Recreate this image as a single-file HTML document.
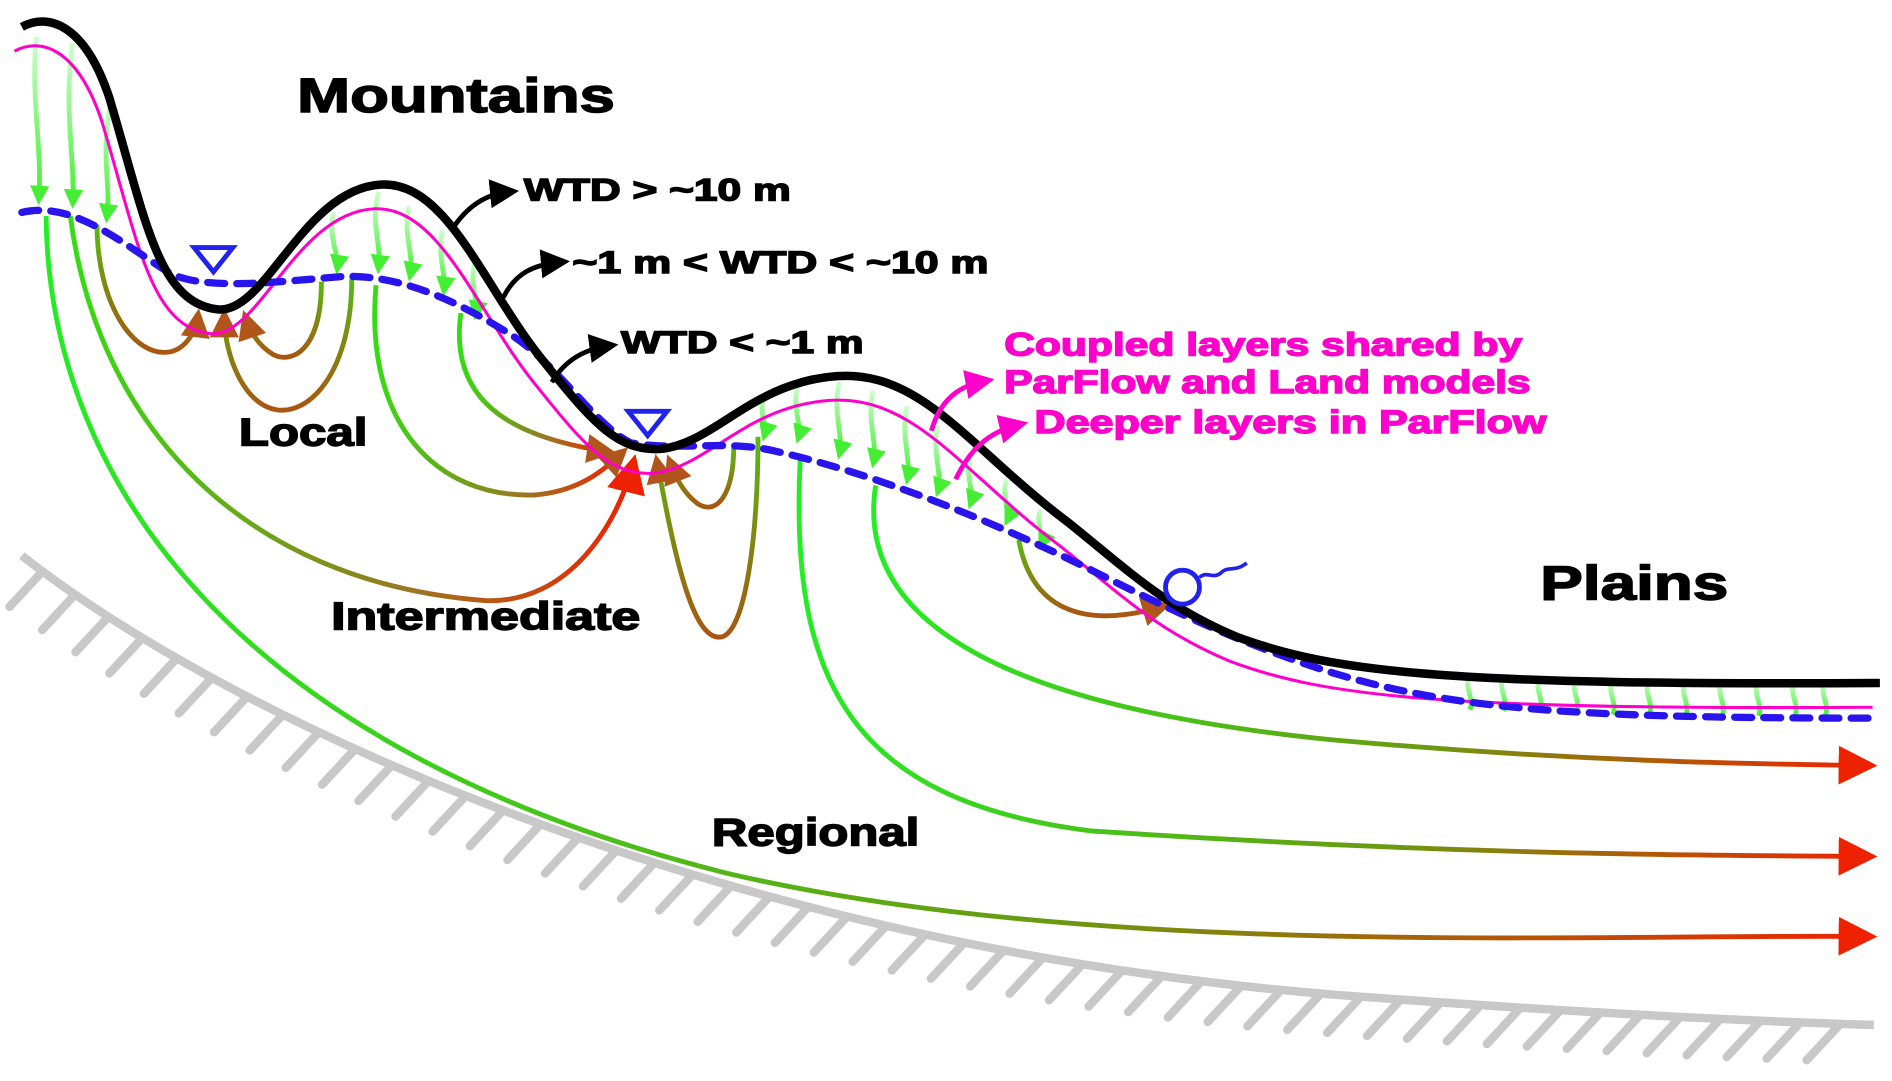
<!DOCTYPE html>
<html><head><meta charset="utf-8"><style>
html,body{margin:0;padding:0;background:#fff;}
svg{display:block;}
text{font-family:"Liberation Sans",Arial,sans-serif;font-weight:bold;stroke-width:1.2;}
</style></head><body>
<svg width="1892" height="1081" viewBox="0 0 1560 891" xmlns="http://www.w3.org/2000/svg">
<defs>
<linearGradient id="gr" x1="0" y1="0" x2="1" y2="0"><stop offset="0" stop-color="#22ee22"/><stop offset="0.55" stop-color="#6a9a10"/><stop offset="1" stop-color="#ee2200"/></linearGradient>
<linearGradient id="gi" x1="0" y1="0" x2="1" y2="0"><stop offset="0" stop-color="#33dd11"/><stop offset="0.6" stop-color="#997722"/><stop offset="1" stop-color="#ee2200"/></linearGradient>
<linearGradient id="gl" x1="0" y1="0" x2="0" y2="1"><stop offset="0" stop-color="#55bb11"/><stop offset="1" stop-color="#aa5511"/></linearGradient>
<linearGradient id="rc" x1="0" y1="0" x2="0" y2="1"><stop offset="0" stop-color="#ccffcc"/><stop offset="1" stop-color="#44ee33"/></linearGradient>
<marker id="ar" markerWidth="8" markerHeight="8" refX="6" refY="4" orient="auto" markerUnits="strokeWidth"><path d="M0,0 L8,4 L0,8 Z" fill="#ee2200"/></marker>
<marker id="ab" markerWidth="6" markerHeight="6" refX="4" refY="3" orient="auto" markerUnits="strokeWidth"><path d="M0,0 L6,3 L0,6 Z" fill="#b0561a"/></marker>
<marker id="ak" markerWidth="6" markerHeight="6" refX="4" refY="3" orient="auto" markerUnits="strokeWidth"><path d="M0,0 L6,3 L0,6 Z" fill="#000"/></marker>
<marker id="am" markerWidth="6" markerHeight="6" refX="4" refY="3" orient="auto" markerUnits="strokeWidth"><path d="M0,0 L6,3 L0,6 Z" fill="#ff00cc"/></marker>
<marker id="ag" markerWidth="4" markerHeight="4" refX="3" refY="2" orient="auto" markerUnits="strokeWidth"><path d="M0,0 L4,2 L0,4 Z" fill="#44ee33"/></marker>
</defs>
<path id="bed" d="M18,458 C200,600 600,780 1100,820 C1300,835 1450,842 1545,845" fill="none" stroke="#c8c8c8" stroke-width="7"/>
<g id="hatch" stroke="#c8c8c8" stroke-width="7" stroke-linecap="round"></g>
<g fill="none" stroke-width="4">
<path d="M38,178 C40,400 200,620 600,720 C900,790 1300,770 1540,772" stroke="url(#gr)" marker-end="url(#ar)"/>
<path d="M660,375 C650,560 700,660 900,685 C1200,705 1400,705 1540,706" stroke="url(#gr)" marker-end="url(#ar)"/>
<path d="M722,400 C700,540 900,590 1100,610 C1300,628 1450,630 1540,631" stroke="url(#gr)" marker-end="url(#ar)"/>
<path d="M58,178 C80,350 200,480 400,495 C470,498 510,430 522,382" stroke="url(#gi)" marker-end="url(#ar)"/>
<path d="M310,235 C300,350 360,410 440,408 C480,405 500,385 512,374" stroke="url(#gi)" marker-end="url(#ab)"/>
<path d="M380,258 C370,330 420,360 500,372" stroke="url(#gi)" marker-end="url(#ab)"/>
<path d="M80,185 C80,250 110,295 140,290 C155,287 162,270 163,262" stroke="url(#gl)" marker-end="url(#ab)"/>
<path d="M290,230 C290,300 260,340 230,338 C200,335 185,290 185,262" stroke="url(#gl)" marker-end="url(#ab)"/>
<path d="M265,232 C265,290 240,300 225,292 C212,284 206,272 203,263" stroke="url(#gl)" marker-end="url(#ab)"/>
<path d="M625,360 C625,440 615,520 595,525 C570,530 555,450 542,382" stroke="url(#gl)" marker-end="url(#ab)"/>
<path d="M605,367 C605,410 590,425 575,415 C562,405 557,392 553,382" stroke="url(#gl)" marker-end="url(#ab)"/>
<path d="M840,445 C850,500 890,520 958,500" stroke="url(#gl)" marker-end="url(#ab)"/>
</g>
<g fill="none" stroke="url(#rc)" stroke-width="4">
<path d="M30,30 C25,80 35,120 32,165" marker-end="url(#ag)"/>
<path d="M60,35 C52,90 62,130 60,168" marker-end="url(#ag)"/>
<path d="M92,80 C82,130 92,150 88,180" marker-end="url(#ag)"/>
<path d="M275,175 C270,195 280,210 278,222" marker-end="url(#ag)"/>
<path d="M312,158 C305,185 315,200 312,222" marker-end="url(#ag)"/>
<path d="M337,170 C332,195 342,210 338,228" marker-end="url(#ag)"/>
<path d="M365,190 C360,210 368,225 366,240" marker-end="url(#ag)"/>
<path d="M392,215 C386,235 395,245 392,260" marker-end="url(#ag)"/>
<path d="M630,325 C625,340 633,350 630,360" marker-end="url(#ag)"/>
<path d="M658,318 C652,335 662,350 658,362" marker-end="url(#ag)"/>
<path d="M692,315 C686,340 696,360 692,375" marker-end="url(#ag)"/>
<path d="M720,322 C714,345 724,365 720,382" marker-end="url(#ag)"/>
<path d="M748,335 C742,360 752,380 748,396" marker-end="url(#ag)"/>
<path d="M773,350 C768,375 778,392 773,406" marker-end="url(#ag)"/>
<path d="M800,375 C795,392 804,405 800,416" marker-end="url(#ag)"/>
<path d="M830,395 C825,410 834,422 830,430" marker-end="url(#ag)"/>
<path d="M858,420 C853,432 862,442 858,450" marker-end="url(#ag)"/>
<path d="M1212,556 C1206,566 1216,575 1212,585"/>
<path d="M1240,557 C1234,567 1244,576 1240,586"/>
<path d="M1270,558 C1264,568 1274,577 1270,587"/>
<path d="M1300,559 C1294,569 1304,578 1300,588"/>
<path d="M1330,560 C1324,570 1334,579 1330,589"/>
<path d="M1360,560 C1354,570 1364,579 1360,589"/>
<path d="M1390,561 C1384,571 1394,580 1390,590"/>
<path d="M1420,561 C1414,571 1424,580 1420,590"/>
<path d="M1450,561 C1444,571 1454,580 1450,590"/>
<path d="M1480,561 C1474,571 1484,580 1480,590"/>
<path d="M1505,561 C1499,571 1509,580 1505,590"/>
</g>
<path d="M18,22 C40,10 70,20 90,80 C120,180 130,250 180,255 C220,258 250,155 315,152 C370,150 400,240 450,300 C490,350 510,372 545,370 C590,365 620,315 690,310 C760,305 800,370 880,430 C930,470 960,500 1020,525 C1100,555 1200,565 1550,563" transform="translate(-6,20)" fill="none" stroke="#ff00cc" stroke-width="2.5"/>
<path d="M18,175 C60,165 100,200 140,225 C170,240 230,232 280,228 C330,225 380,250 420,275 C460,300 490,350 520,365 C560,372 600,362 640,372 C720,390 820,430 900,470 C960,500 1020,530 1100,555 C1200,585 1300,592 1550,592" fill="none" stroke="#2a14ee" stroke-width="6" stroke-dasharray="14,10" stroke-linecap="round"/>
<path d="M18,22 C40,10 70,20 90,80 C120,180 130,250 180,255 C220,258 250,155 315,152 C370,150 400,240 450,300 C490,350 510,372 545,370 C590,365 620,315 690,310 C760,305 800,370 880,430 C930,470 960,500 1020,525 C1100,555 1200,565 1550,563" fill="none" stroke="#000" stroke-width="7"/>
<g fill="none" stroke="#000" stroke-width="4">
<path d="M372,190 C385,170 400,160 420,158" marker-end="url(#ak)"/>
<path d="M415,245 C425,225 440,218 462,216" marker-end="url(#ak)"/>
<path d="M455,315 C465,298 480,288 502,285" marker-end="url(#ak)"/>
</g>
<g fill="none" stroke="#ff00cc" stroke-width="4">
<path d="M768,355 C775,330 790,318 812,314" marker-end="url(#am)"/>
<path d="M788,395 C800,370 815,356 840,350" marker-end="url(#am)"/>
</g>
<path d="M160,204 L192,204 L176,224 Z" fill="none" stroke="#2222ee" stroke-width="4"/>
<path d="M518,339 L550,339 L534,359 Z" fill="none" stroke="#2222ee" stroke-width="4"/>
<circle cx="975" cy="484" r="14" fill="none" stroke="#2222ee" stroke-width="4"/>
<path d="M989,476 C995,470 1000,478 1007,472 C1013,466 1018,472 1028,464" fill="none" stroke="#2222ee" stroke-width="3"/>
<g fill="#000" stroke="#000">
<text x="245" y="92" font-size="40" textLength="262" lengthAdjust="spacingAndGlyphs">Mountains</text>
<text x="1270" y="494" font-size="40" textLength="155" lengthAdjust="spacingAndGlyphs">Plains</text>
<text x="197" y="367" font-size="32" textLength="106" lengthAdjust="spacingAndGlyphs">Local</text>
<text x="273" y="519" font-size="32" textLength="255" lengthAdjust="spacingAndGlyphs">Intermediate</text>
<text x="587" y="697" font-size="32" textLength="171" lengthAdjust="spacingAndGlyphs">Regional</text>
<text x="432" y="165" font-size="26" textLength="220" lengthAdjust="spacingAndGlyphs">WTD &gt; ~10 m</text>
<text x="472" y="225" font-size="26" textLength="343" lengthAdjust="spacingAndGlyphs">~1 m &lt; WTD &lt; ~10 m</text>
<text x="512" y="291" font-size="26" textLength="200" lengthAdjust="spacingAndGlyphs">WTD &lt; ~1 m</text>
</g>
<g fill="#ff00cc" stroke="#ff00cc">
<text x="828" y="293" font-size="27" textLength="427" lengthAdjust="spacingAndGlyphs">Coupled layers shared by</text>
<text x="828" y="324" font-size="27" textLength="434" lengthAdjust="spacingAndGlyphs">ParFlow and Land models</text>
<text x="853" y="357" font-size="27" textLength="422" lengthAdjust="spacingAndGlyphs">Deeper layers in ParFlow</text>
</g>
</svg>
<script>
(function(){
var p=document.getElementById('bed'),g=document.getElementById('hatch');
var L=p.getTotalLength(),ns='http://www.w3.org/2000/svg';
for(var s=20;s<L-5;s+=33){
var a=p.getPointAtLength(s);
var l=document.createElementNS(ns,'line');
l.setAttribute('x1',a.x);l.setAttribute('y1',a.y+2);
l.setAttribute('x2',a.x-26);l.setAttribute('y2',a.y+30);
g.appendChild(l);}
})();
</script>
</body></html>
